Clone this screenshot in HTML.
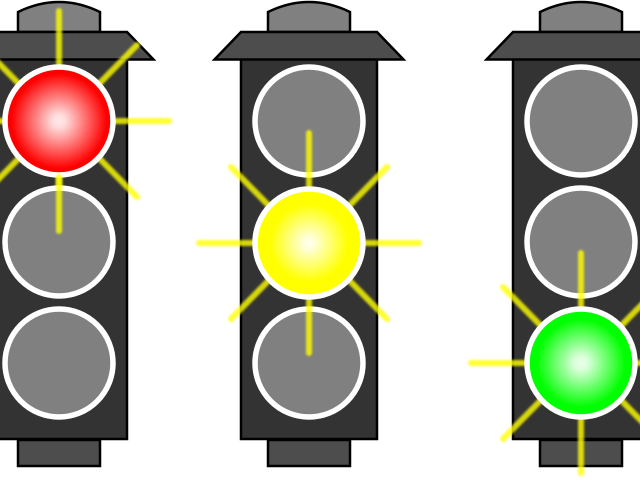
<!DOCTYPE html>
<html>
<head>
<meta charset="utf-8">
<style>
html,body{margin:0;padding:0;background:#fff;width:640px;height:480px;overflow:hidden}
svg{display:block}
</style>
</head>
<body>
<svg xmlns="http://www.w3.org/2000/svg" width="640" height="480" viewBox="0 0 640 480">
<defs>
<radialGradient id="r"><stop offset="0" stop-color="#ffe8e8"/><stop offset="0.12" stop-color="#ffdcdc"/><stop offset="0.88" stop-color="#f00"/><stop offset="1" stop-color="#f00"/></radialGradient>
<radialGradient id="y"><stop offset="0" stop-color="#fffff0"/><stop offset="0.1" stop-color="#ffffdc"/><stop offset="0.72" stop-color="#ff0"/><stop offset="1" stop-color="#ff0"/></radialGradient>
<radialGradient id="g"><stop offset="0" stop-color="#e8ffe8"/><stop offset="0.12" stop-color="#dcffdc"/><stop offset="0.82" stop-color="#0f0"/><stop offset="1" stop-color="#0f0"/></radialGradient>
<filter id="b" filterUnits="userSpaceOnUse" x="-130" y="-130" width="260" height="260"><feGaussianBlur stdDeviation="1"/></filter>
<filter id="b2" filterUnits="userSpaceOnUse" x="0" y="0" width="640" height="480"><feGaussianBlur stdDeviation="1"/></filter>
<g id="body">
<path d="M-41 32V12Q0 -8 41 12V32Z" fill="#808080" stroke="#000" stroke-width="2.5"/>
<rect x="-41" y="440" width="82" height="26" fill="#4d4d4d" stroke="#000" stroke-width="2.5"/>
<rect x="-68" y="59" width="136" height="380" fill="#333" stroke="#000" stroke-width="2.5"/>
<path d="M-68 32H68L94.5 59.5H-94.5Z" fill="#4d4d4d" stroke="#000" stroke-width="2.5" stroke-linejoin="miter" stroke-miterlimit="10"/>
</g>
<g id="rays" fill="none" stroke="#ffff00" stroke-width="6" stroke-linecap="round" stroke-opacity="0.8" filter="url(#b)">
<path d="M0 -50V-110M0 50V110M-50 0H-110M50 0H110M-35 -32L-78 -76M35 -32L78 -76M-35 32L-78 76M35 32L78 76"/>
</g>
</defs>

<use href="#body" x="59"/>
<use href="#rays" transform="translate(59 121)"/>
<g stroke="#fff" stroke-width="5.5">
<circle cx="59" cy="121" r="54" fill="url(#r)"/>
<circle cx="59" cy="242" r="54" fill="#808080"/>
<circle cx="59" cy="363" r="54" fill="#808080"/>
</g>
<path d="M59 177V231" stroke="#ffff00" stroke-opacity="0.8" stroke-width="6" stroke-linecap="round" filter="url(#b2)"/>

<use href="#body" x="309"/>
<g stroke="#fff" stroke-width="5.5">
<circle cx="309" cy="121" r="54" fill="#808080"/>
<circle cx="309" cy="363" r="54" fill="#808080"/>
</g>
<use href="#rays" transform="translate(309 243)"/>
<circle cx="309" cy="243" r="54" fill="url(#y)" stroke="#fff" stroke-width="5.5"/>

<use href="#body" x="581"/>
<g stroke="#fff" stroke-width="5.5">
<circle cx="581" cy="121" r="54" fill="#808080"/>
<circle cx="581" cy="242" r="54" fill="#808080"/>
</g>
<use href="#rays" transform="translate(581 363)"/>
<circle cx="581" cy="363" r="54" fill="url(#g)" stroke="#fff" stroke-width="5.5"/>
</svg>
</body>
</html>
